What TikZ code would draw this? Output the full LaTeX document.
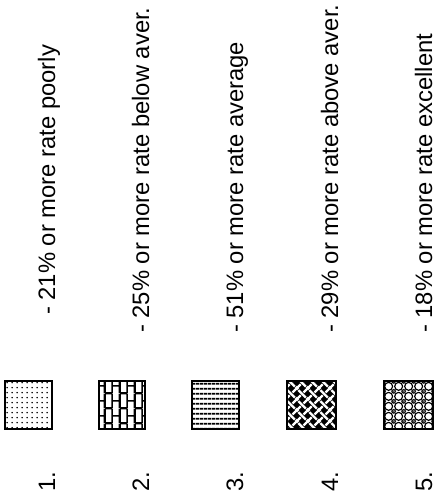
\documentclass[tikz,border=0pt]{standalone}
\usepackage{fontspec}
\setmainfont{Liberation Sans}
\usetikzlibrary{patterns.meta}

% fill patterns of the five legend boxes
\tikzdeclarepattern{name=finedots, type=uncolored,
  bounding box={(0pt,0pt) and (5pt,5.3pt)}, tile size={(5pt,5.3pt)},
  code={\fill (2.5pt,2.65pt) circle (0.95pt);}}
\tikzdeclarepattern{name=upbricks, type=uncolored,
  bounding box={(0pt,0pt) and (15pt,15pt)}, tile size={(15pt,15pt)},
  code={\draw[line width=1.6pt] (0pt,0pt) -- (0pt,15pt) (7.5pt,0pt) -- (7.5pt,15pt)
          (15pt,0pt) -- (15pt,15pt) (0pt,0pt) -- (7.5pt,0pt) (0pt,15pt) -- (7.5pt,15pt)
          (7.5pt,7.5pt) -- (15pt,7.5pt);}}
\tikzdeclarepattern{name=flatlines, type=uncolored,
  bounding box={(0pt,0pt) and (4pt,4.8pt)}, tile size={(4pt,4.8pt)},
  code={\draw[line width=1.8pt] (0pt,2.4pt) -- (4pt,2.4pt);}}
\tikzdeclarepattern{name=weave, type=uncolored,
  bounding box={(0pt,0pt) and (11pt,11pt)}, tile size={(11pt,11pt)},
  code={\draw[line width=2.4pt]
          (-3.95pt,-3.95pt) -- (3.95pt,3.95pt)
          (7.05pt,-3.95pt) -- (14.95pt,3.95pt)
          (-3.95pt,7.05pt) -- (3.95pt,14.95pt)
          (7.05pt,7.05pt) -- (14.95pt,14.95pt)
          (1.55pt,9.45pt) -- (9.45pt,1.55pt);}}
\tikzdeclarepattern{name=rings, type=uncolored,
  bounding box={(0pt,0pt) and (9.6pt,9.6pt)}, tile size={(9.6pt,9.6pt)},
  code={\draw[line width=1.2pt] (4.8pt,4.8pt) circle (4.1pt);
        \draw[line width=0.8pt] (0pt,0pt) circle (1.6pt) (9.6pt,0pt) circle (1.6pt)
          (0pt,9.6pt) circle (1.6pt) (9.6pt,9.6pt) circle (1.6pt);
        \fill (0pt,0pt) circle (0.5pt) (9.6pt,0pt) circle (0.5pt)
          (0pt,9.6pt) circle (0.5pt) (9.6pt,9.6pt) circle (0.5pt);}}

\begin{document}
\begin{tikzpicture}[x=1pt, y=1pt,
    lbl/.style={rotate=90, anchor=base west, inner sep=0pt,
      font=\fontsize{23.8}{28}\selectfont},
    swatch/.style={draw=black, line width=1.4pt}]
  \useasboundingbox (0,0) rectangle (436,498);

  % numbers along the bottom
  \node[lbl] (n1) at (55,6) {1.};
  \node[lbl] (n2) at (149,6) {2.};
  \node[lbl] (n3) at (243,6) {3.};
  \node[lbl] (n4) at (338,6) {4.};
  \node[lbl] (n5) at (432,6) {5.};

  % swatches
  \draw[swatch, pattern={finedots}] (5,69) rectangle (52,117);
  \draw[swatch, pattern={upbricks}] (99,69) rectangle (145,117);
  \draw[swatch, pattern={flatlines}] (192,69) rectangle (239,117);
  \fill[black] (287,69) rectangle (336,117);
  \draw[swatch, pattern={weave}, pattern color=white] (287,69) rectangle (336,117);
  \draw[swatch, pattern={rings}] (384,69) rectangle (433,117);

  % legend texts
  \node[lbl] (t1) at (55,183) {- 21\% or more rate poorly};
  \node[lbl] (t2) at (149,165) {- 25\% or more rate below aver.};
  \node[lbl] (t3) at (243,165) {- 51\% or more rate average};
  \node[lbl] (t4) at (338,165) {- 29\% or more rate above aver.};
  \node[lbl] (t5) at (432,165) {- 18\% or more rate excellent};
\end{tikzpicture}
\end{document}
